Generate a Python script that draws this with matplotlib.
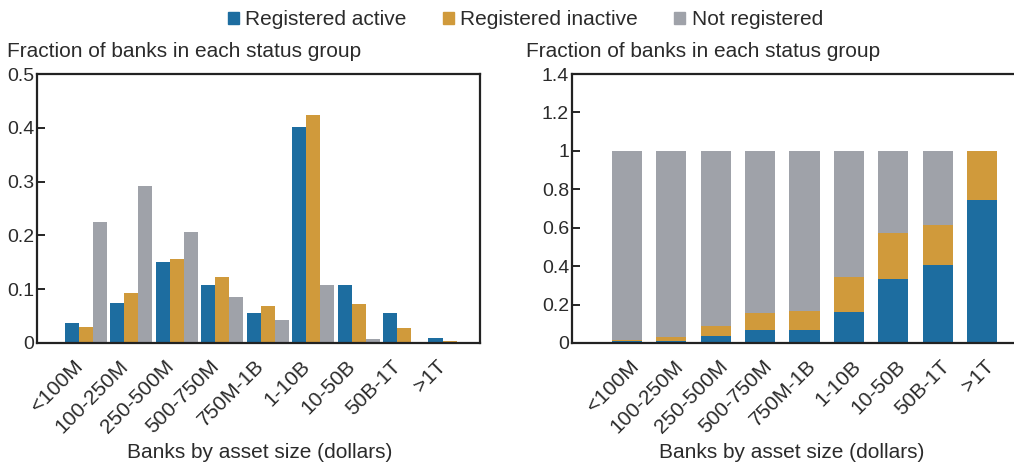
import numpy as np
import matplotlib
matplotlib.use('Agg')
import matplotlib.pyplot as plt
import matplotlib.transforms as mtrans
from matplotlib.patches import Patch

plt.rcParams['font.family'] = ['Liberation Sans', 'DejaVu Sans']

sizes = ['<100M', '100-250M', '250-500M', '500-750M', '750M-1B',
         '1-10B', '10-50B', '50B-1T', '>1T']

# left: share of each status group falling in each size bucket
dist_active   = [0.038, 0.075, 0.151, 0.107, 0.056, 0.402, 0.107, 0.056, 0.010]
dist_inactive = [0.030, 0.092, 0.157, 0.123, 0.068, 0.424, 0.073, 0.027, 0.003]
dist_notreg   = [0.224, 0.291, 0.207, 0.086, 0.043, 0.108, 0.008, 0.002, 0.000]

# right: share of banks in each size bucket by status (stacked)
share_active   = [0.009, 0.012, 0.038, 0.069, 0.069, 0.163, 0.334, 0.407, 0.745]
share_inactive = [0.008, 0.021, 0.052, 0.085, 0.096, 0.182, 0.236, 0.205, 0.255]
share_notreg   = [0.983, 0.967, 0.910, 0.846, 0.835, 0.655, 0.430, 0.388, 0.000]

c_blue = '#1d6da0'
c_gold = '#d09a3b'
c_gray = '#9fa2a9'
txt = '#2b2b2b'

fig = plt.figure(figsize=(10.14, 4.69), dpi=100)
ax1 = fig.add_axes([0.0365, 0.2687, 0.437, 0.5735])
ax2 = fig.add_axes([0.564, 0.2687, 0.436, 0.5735])

pos = np.arange(len(sizes))
w = 0.31
ax1.bar(pos - w, dist_active, w, color=c_blue)
ax1.bar(pos, dist_inactive, w, color=c_gold)
ax1.bar(pos + w, dist_notreg, w, color=c_gray)
ax1.set_xlim(-1.07, 8.67)
ax1.set_ylim(0, 0.5)
ax1.set_yticks([0, 0.1, 0.2, 0.3, 0.4, 0.5])
ax1.set_yticklabels(['0', '0.1', '0.2', '0.3', '0.4', '0.5'])

bw = 0.68
ax2.bar(pos, share_active, bw, color=c_blue)
ax2.bar(pos, share_inactive, bw, bottom=share_active, color=c_gold)
bottom2 = np.array(share_active) + np.array(share_inactive)
ax2.bar(pos, share_notreg, bw, bottom=bottom2, color=c_gray)
ax2.set_xlim(-1.24, 8.72)
ax2.set_ylim(0, 1.4)
ax2.set_yticks([0, 0.2, 0.4, 0.6, 0.8, 1, 1.2, 1.4])
ax2.set_yticklabels(['0', '0.2', '0.4', '0.6', '0.8', '1', '1.2', '1.4'])
ax2.spines['right'].set_visible(False)

for ax, dx in ((ax1, -13), (ax2, 2)):
    for s in ax.spines.values():
        s.set_linewidth(1.6)
        s.set_color('#222222')
    ax.set_xticks(pos)
    ax.set_xticklabels(sizes, rotation=45, ha='right', rotation_mode='anchor',
                       fontsize=15, color=txt)
    ax.tick_params(axis='x', length=0, pad=9)
    ax.tick_params(axis='y', direction='in', length=6, width=1.2,
                   labelsize=14, labelcolor=txt, pad=2)
    shift = mtrans.ScaledTranslation(dx / 100, -1 / 100, fig.dpi_scale_trans)
    for lab in ax.get_xticklabels():
        lab.set_transform(lab.get_transform() + shift)

fig.text(0.256, 0.036, 'Banks by asset size (dollars)', fontsize=15,
         color=txt, ha='center', va='center')
fig.text(0.781, 0.036, 'Banks by asset size (dollars)', fontsize=15,
         color=txt, ha='center', va='center')

fig.text(0.007, 0.891, 'Fraction of banks in each status group', fontsize=15,
         color=txt, va='center', ha='left')
fig.text(0.519, 0.891, 'Fraction of banks in each status group', fontsize=15,
         color=txt, va='center', ha='left')

handles = [Patch(color=c_blue, label='Registered active'),
           Patch(color=c_gold, label='Registered inactive'),
           Patch(color=c_gray, label='Not registered')]
leg = fig.legend(handles=handles, loc='center', bbox_to_anchor=(0.518, 0.958),
                 ncol=3, frameon=False, fontsize=15, handlelength=0.53,
                 handleheight=0.53, handletextpad=0.3, columnspacing=1.75)
for t in leg.get_texts():
    t.set_color(txt)

fig.savefig('out.png', dpi=100)
